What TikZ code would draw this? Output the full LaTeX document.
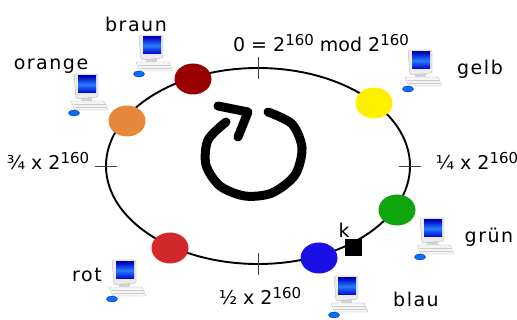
\documentclass[tikz,border=0pt]{standalone}
\usepackage{fontspec}
\setmainfont{DejaVu Sans}
\usetikzlibrary{shapes.geometric}
\usetikzlibrary{arrows}

\newcommand{\twohs}{2\raisebox{6pt}{\fontsize{15}{15}\selectfont 160}}

\definecolor{cbraun}{RGB}{153,0,0}
\definecolor{corange}{RGB}{230,135,58}
\definecolor{cgelb}{RGB}{255,240,0}
\definecolor{cgruen}{RGB}{14,165,14}
\definecolor{cblau}{RGB}{26,16,230}
\definecolor{crot}{RGB}{210,40,42}

\tikzset{
 dot/.style={ellipse, minimum width=37pt, minimum height=31pt, inner sep=0pt},
 lbl/.style={font=\fontsize{19}{20}\selectfont, inner sep=0pt, anchor=base},
 nm/.style={lbl, font=\fontsize{19}{20}\selectfont\addfontfeature{LetterSpace=8}},
 pc/.pic={
  \fill[gray!35] (-5,10) rectangle (6,16);
  \filldraw[fill=gray!8, draw=gray!50, rounded corners=1pt] (-15,15) -- (18,15) -- (22,24) -- (-11,24) -- cycle;
  \draw[gray!40] (-12,18) -- (19,18) (-11,21) -- (20,21);
  \filldraw[fill=gray!15, draw=gray!55, rounded corners=1.5pt] (-12,-12) -- (12,-12) -- (12,11) -- (-10,13) -- cycle;
  \shade[top color=blue!75!black, bottom color=blue!80!black, middle color=cyan!40!blue!85] (-8,-10) rectangle (10,7);
  \filldraw[fill=blue!55!cyan, draw=blue!60!black, line width=.3pt] (-12,27) ellipse [x radius=5.5pt, y radius=3pt];
 }
}

\begin{document}
\begin{tikzpicture}[x=1pt, y=-1pt]
\useasboundingbox (0,0) rectangle (517,320);
\fill[white] (0,0) rectangle (517,320);

\draw[line width=1.9pt] (258,166) ellipse [x radius=152pt, y radius=98pt];

\coordinate (top) at (258,68);
\coordinate (left) at (106,166);
\coordinate (right) at (410,166);
\coordinate (bottom) at (258,264);
\foreach \p in {top, bottom} {
 \draw[gray!50!black, thick] (\p) ++(0,-11) --++(0,22);
}
\foreach \p in {left, right} {
 \draw[gray!50!black, thick] (\p) ++(-11,0) --++(22,0);
}

\node[lbl] (ttop) at (321,52) {0 = \twohs{} mod \twohs};
\node[lbl] (tleft) at (48,170) {¾ x \twohs};
\node[lbl] (tright) at (477,170) {¼ x \twohs};
\node[lbl] (tbottom) at (260,305) {½ x \twohs};

% Peers on the ring
\node[dot, fill=cbraun] (braun) at (193,79) {};
\node[dot, fill=corange] (orange) at (127,121) {};
\node[dot, fill=cgelb] (gelb) at (374,103) {};
\node[dot, fill=cgruen] (gruen) at (397,210) {};
\node[dot, fill=cblau] (blau) at (319,258) {};
\node[dot, fill=crot] (rot) at (170,248) {};
\node[fill=black, minimum size=17pt, inner sep=0pt] (key) at (353,248) {};
\node[lbl] (k) at (344,238) {k};

\pic (pcbraun) at (151,47) {pc};
\pic (pcorange) at (86,86) {pc};
\pic (pcgelb) at (420,62) {pc};
\pic (pcgruen) at (432,230) {pc};
\pic (pcblau) at (346,288) {pc};
\pic (pcrot) at (124,272) {pc};

\node[nm] (nbraun) at (136,32) {braun};
\node[nm] (norange) at (51,70) {orange};
\node[nm] (ngelb) at (480,75) {gelb};
\node[nm] (ngruen) at (489,243) {grün};
\node[nm] (nblau) at (416,307) {blau};
\node[nm] (nrot) at (87,282) {rot};

% Rotation sign
\draw[line width=9pt, line cap=round, line join=round] plot[smooth] coordinates {(268,112) (292,124) (302,148) (295,175) (272,193) (245,196) (220,186) (206,165) (208,140) (226,122)};
\draw[line width=9pt, line cap=round, line join=round] (218,106) -- (248,112) -- (238,137);
\end{tikzpicture}
\end{document}
